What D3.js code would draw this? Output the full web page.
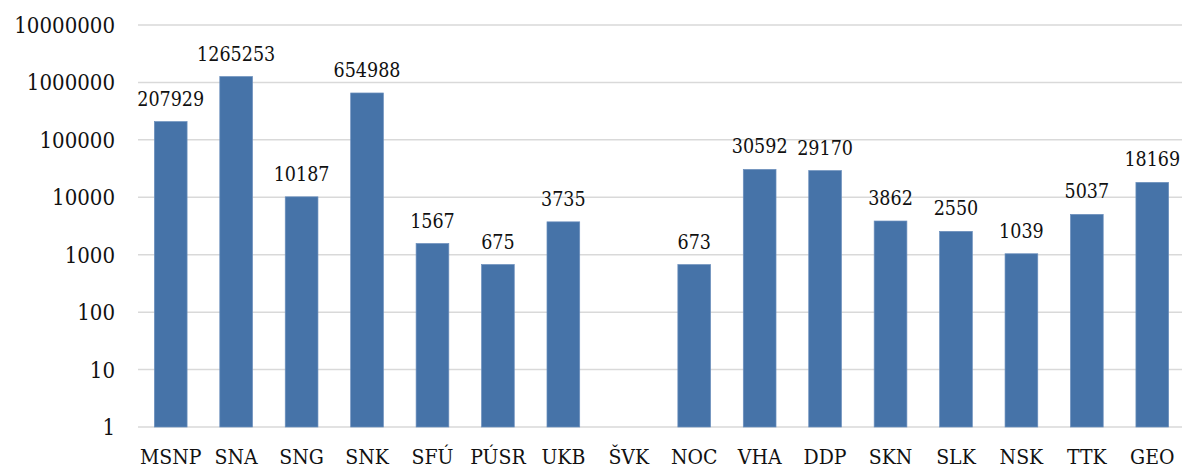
<!DOCTYPE html>
<html>
<head>
<meta charset="utf-8">
<script src="https://cdn.jsdelivr.net/npm/d3@7"></script>
<style>
  body { margin: 0; background: #fff; }
  text { font-family: "DejaVu Serif", serif; font-stretch: condensed; fill: #111; }
</style>
</head>
<body>
<svg width="1185" height="468"></svg>
<script>
// categories and values (ŠVK has no bar)
const libraries = ["MSNP", "SNA", "SNG", "SNK", "SFÚ", "PÚSR", "UKB", "ŠVK",
  "NOC", "VHA", "DDP", "SKN", "SLK", "NSK", "TTK", "GEO"];
const counts = [207929, 1265253, 10187, 654988, 1567, 675, 3735, null,
  673, 30592, 29170, 3862, 2550, 1039, 5037, 18169];
const yTicks = [1, 10, 100, 1000, 10000, 100000, 1000000, 10000000];

const svg = d3.select("svg");

const x = d3.scaleBand().domain(libraries).range([138, 1185]).paddingInner(0.5).paddingOuter(0.25);
const y = d3.scaleLog().domain([1, 10000000]).range([427, 25]);

// gridlines
svg.append("g").selectAll("line").data(yTicks).enter().append("line")
  .attr("x1", 138).attr("x2", 1182)
  .attr("y1", function(d) { return y(d); })
  .attr("y2", function(d) { return y(d); })
  .style("stroke", "#d9d9d9").style("stroke-width", 1.5);

// y tick labels
svg.append("g").selectAll("text").data(yTicks).enter().append("text")
  .attr("x", 115).attr("y", function(d) { return y(d) + 8; })
  .attr("text-anchor", "end").style("font-size", "22px")
  .text(function(d) { return d; });

const data = libraries.map(function(k, i) { return { name: k, value: counts[i] }; })
  .filter(function(d) { return d.value != null; });

// bars
svg.append("g").selectAll("rect").data(data).enter().append("rect")
  .attr("x", function(d) { return x(d.name); })
  .attr("width", x.bandwidth())
  .attr("y", function(d) { return y(d.value); })
  .attr("height", function(d) { return y(1) - y(d.value); })
  .style("fill", "#4673a8").style("stroke", "#6b8fbd").style("stroke-width", 0.7);

// value labels
svg.append("g").selectAll("text").data(data).enter().append("text")
  .attr("x", function(d) { return x(d.name) + x.bandwidth() / 2; })
  .attr("y", function(d) { return y(d.value) - 16; })
  .attr("text-anchor", "middle").style("font-size", "19.5px")
  .text(function(d) { return d.value; });

// category labels
svg.append("g").selectAll("text").data(libraries).enter().append("text")
  .attr("x", function(d) { return x(d) + x.bandwidth() / 2; })
  .attr("y", 464)
  .attr("text-anchor", "middle").style("font-size", "21px")
  .text(function(d) { return d; });
</script>
</body>
</html>
